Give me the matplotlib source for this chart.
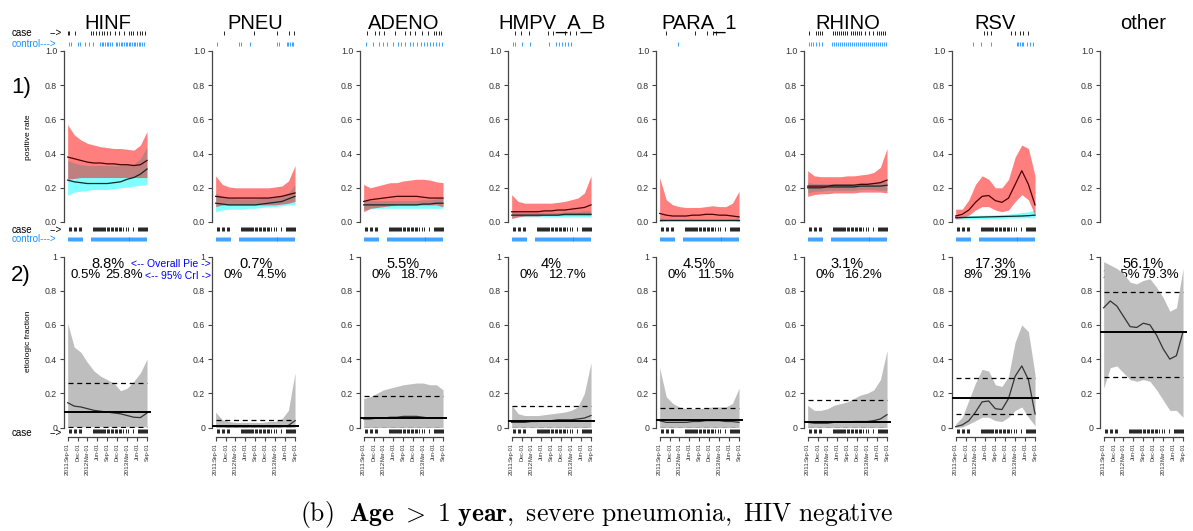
import matplotlib

matplotlib.use("Agg")

import matplotlib.pyplot as plt

plt.rcParams["font.family"] = ["Liberation Sans", "DejaVu Sans"]
plt.rcParams["mathtext.fontset"] = "cm"

W, H = 1193, 531

# months since 2011-09-01, smoothed curves are read every two months
MONTHS = [0, 2, 4, 6, 8, 10, 12, 14, 16, 18, 20, 22, 24]
TICK_MONTHS = [0, 3, 6, 9, 12, 15, 18, 21, 24]
TICK_LABELS = ["Sep-01", "Dec-01", "Mar-01", "Jun-01", "Sep-01",
               "Dec-01", "Mar-01", "Jun-01", "Sep-01"]
YEAR_LABELS = {0: "2011:", 6: "2012:", 18: "2013:"}

PATHOGENS = ["HINF", "PNEU", "ADENO", "HMPV_A_B", "PARA_1", "RHINO", "RSV", "other"]

# ---- row 1: positive rate (case = red band, control = cyan band) ----
hinf_case_mid = [0.38, 0.37, 0.36, 0.35, 0.345, 0.345, 0.34, 0.34, 0.335, 0.335, 0.33, 0.335, 0.36]
hinf_case_hi = [0.57, 0.51, 0.48, 0.46, 0.45, 0.44, 0.435, 0.43, 0.43, 0.425, 0.42, 0.45, 0.53]
hinf_case_lo = [0.25, 0.255, 0.26, 0.26, 0.26, 0.26, 0.26, 0.26, 0.26, 0.26, 0.26, 0.26, 0.26]
hinf_ctrl_mid = [0.245, 0.235, 0.23, 0.225, 0.225, 0.225, 0.225, 0.23, 0.235, 0.25, 0.26, 0.28, 0.31]
hinf_ctrl_hi = [0.36, 0.345, 0.335, 0.33, 0.33, 0.33, 0.33, 0.33, 0.33, 0.335, 0.34, 0.37, 0.44]
hinf_ctrl_lo = [0.155, 0.175, 0.18, 0.185, 0.19, 0.19, 0.19, 0.195, 0.2, 0.205, 0.21, 0.215, 0.22]

pneu_case_mid = [0.15, 0.145, 0.14, 0.14, 0.14, 0.14, 0.14, 0.14, 0.14, 0.145, 0.15, 0.16, 0.17]
pneu_case_hi = [0.27, 0.22, 0.205, 0.2, 0.2, 0.2, 0.2, 0.2, 0.2, 0.205, 0.21, 0.24, 0.33]
pneu_case_lo = [0.09, 0.1, 0.1, 0.1, 0.1, 0.1, 0.1, 0.1, 0.1, 0.1, 0.105, 0.11, 0.12]
pneu_ctrl_mid = [0.11, 0.105, 0.1, 0.1, 0.1, 0.1, 0.1, 0.105, 0.11, 0.115, 0.12, 0.135, 0.15]
pneu_ctrl_hi = [0.17, 0.15, 0.14, 0.135, 0.135, 0.135, 0.135, 0.14, 0.14, 0.145, 0.155, 0.17, 0.22]
pneu_ctrl_lo = [0.06, 0.07, 0.075, 0.075, 0.075, 0.08, 0.08, 0.085, 0.09, 0.09, 0.095, 0.1, 0.1]

adeno_case_mid = [0.12, 0.13, 0.135, 0.14, 0.145, 0.15, 0.15, 0.15, 0.15, 0.145, 0.14, 0.14, 0.14]
adeno_case_hi = [0.22, 0.2, 0.21, 0.22, 0.23, 0.23, 0.24, 0.245, 0.25, 0.25, 0.245, 0.235, 0.23]
adeno_case_lo = [0.06, 0.08, 0.085, 0.09, 0.095, 0.1, 0.1, 0.1, 0.1, 0.1, 0.1, 0.1, 0.09]
adeno_ctrl_mid = [0.1, 0.1, 0.1, 0.1, 0.1, 0.1, 0.1, 0.1, 0.1, 0.105, 0.105, 0.11, 0.11]
adeno_ctrl_hi = [0.13, 0.125, 0.125, 0.125, 0.125, 0.125, 0.125, 0.125, 0.125, 0.13, 0.13, 0.135, 0.14]
adeno_ctrl_lo = [0.07, 0.075, 0.08, 0.08, 0.08, 0.08, 0.08, 0.08, 0.08, 0.08, 0.08, 0.08, 0.08]

hmpv_case_mid = [0.06, 0.06, 0.06, 0.06, 0.06, 0.065, 0.065, 0.07, 0.07, 0.075, 0.08, 0.085, 0.1]
hmpv_case_hi = [0.16, 0.12, 0.11, 0.11, 0.11, 0.11, 0.11, 0.115, 0.12, 0.13, 0.14, 0.17, 0.27]
hmpv_case_lo = [0.02, 0.03, 0.035, 0.035, 0.035, 0.04, 0.04, 0.04, 0.04, 0.04, 0.04, 0.04, 0.04]
hmpv_ctrl_mid = [0.04, 0.04, 0.04, 0.04, 0.04, 0.04, 0.04, 0.04, 0.045, 0.045, 0.045, 0.045, 0.045]
hmpv_ctrl_hi = [0.06, 0.055, 0.055, 0.055, 0.055, 0.055, 0.055, 0.055, 0.06, 0.06, 0.06, 0.065, 0.065]
hmpv_ctrl_lo = [0.025, 0.03, 0.03, 0.03, 0.03, 0.03, 0.03, 0.03, 0.03, 0.03, 0.03, 0.03, 0.03]

para_case_mid = [0.05, 0.04, 0.035, 0.035, 0.035, 0.04, 0.04, 0.045, 0.045, 0.04, 0.04, 0.035, 0.03]
para_case_hi = [0.26, 0.13, 0.1, 0.09, 0.085, 0.085, 0.085, 0.09, 0.095, 0.09, 0.09, 0.11, 0.18]
para_case_lo = [0.005, 0.01, 0.01, 0.01, 0.01, 0.015, 0.015, 0.015, 0.015, 0.015, 0.01, 0.01, 0.005]
para_ctrl_mid = [0.01, 0.01, 0.01, 0.01, 0.01, 0.01, 0.01, 0.01, 0.01, 0.01, 0.01, 0.01, 0.01]
para_ctrl_hi = [0.025, 0.02, 0.02, 0.02, 0.02, 0.02, 0.02, 0.02, 0.02, 0.02, 0.02, 0.02, 0.025]
para_ctrl_lo = [0.003, 0.003, 0.003, 0.003, 0.003, 0.003, 0.003, 0.003, 0.003, 0.003, 0.003, 0.003, 0.003]

rhino_case_mid = [0.21, 0.21, 0.21, 0.21, 0.215, 0.215, 0.215, 0.215, 0.22, 0.22, 0.225, 0.23, 0.245]
rhino_case_hi = [0.3, 0.27, 0.265, 0.265, 0.265, 0.265, 0.27, 0.27, 0.275, 0.28, 0.29, 0.32, 0.43]
rhino_case_lo = [0.15, 0.16, 0.165, 0.165, 0.17, 0.17, 0.17, 0.17, 0.175, 0.175, 0.175, 0.175, 0.17]
rhino_ctrl_mid = [0.2, 0.2, 0.2, 0.205, 0.205, 0.205, 0.205, 0.205, 0.21, 0.21, 0.21, 0.21, 0.215]
rhino_ctrl_hi = [0.23, 0.225, 0.225, 0.225, 0.225, 0.225, 0.225, 0.225, 0.23, 0.23, 0.23, 0.235, 0.24]
rhino_ctrl_lo = [0.17, 0.18, 0.18, 0.185, 0.185, 0.185, 0.185, 0.185, 0.19, 0.19, 0.19, 0.185, 0.185]

rsv_case_mid = [0.035, 0.045, 0.07, 0.115, 0.15, 0.155, 0.125, 0.115, 0.14, 0.22, 0.3, 0.22, 0.1]
rsv_case_hi = [0.075, 0.075, 0.13, 0.22, 0.27, 0.25, 0.2, 0.2, 0.25, 0.38, 0.45, 0.43, 0.27]
rsv_case_lo = [0.02, 0.025, 0.04, 0.07, 0.09, 0.09, 0.07, 0.06, 0.07, 0.12, 0.16, 0.13, 0.04]
rsv_ctrl_mid = [0.025, 0.026, 0.027, 0.028, 0.029, 0.03, 0.031, 0.032, 0.033, 0.034, 0.035, 0.037, 0.04]
rsv_ctrl_hi = [0.035, 0.036, 0.037, 0.038, 0.04, 0.04, 0.042, 0.044, 0.046, 0.05, 0.055, 0.06, 0.07]
rsv_ctrl_lo = [0.015, 0.016, 0.017, 0.018, 0.019, 0.02, 0.02, 0.021, 0.022, 0.023, 0.024, 0.025, 0.025]

# ---- row 2: etiologic fraction ----
hinf_ef_mid = [0.145, 0.125, 0.12, 0.11, 0.1, 0.095, 0.09, 0.085, 0.08, 0.07, 0.06, 0.058, 0.085]
hinf_ef_hi = [0.61, 0.47, 0.44, 0.38, 0.33, 0.3, 0.28, 0.26, 0.215, 0.23, 0.27, 0.32, 0.4]
hinf_ef_lo = [0.004, 0.004, 0.004, 0.004, 0.004, 0.004, 0.004, 0.004, 0.004, 0.004, 0.004, 0.004, 0.004]

pneu_ef_mid = [0.008, 0.006, 0.005, 0.005, 0.005, 0.005, 0.005, 0.005, 0.005, 0.005, 0.006, 0.012, 0.04]
pneu_ef_hi = [0.09, 0.045, 0.035, 0.03, 0.03, 0.03, 0.03, 0.03, 0.035, 0.035, 0.05, 0.1, 0.32]
pneu_ef_lo = [0, 0, 0, 0, 0, 0, 0, 0, 0, 0, 0, 0, 0]

adeno_ef_mid = [0.05, 0.05, 0.055, 0.055, 0.06, 0.06, 0.065, 0.065, 0.065, 0.06, 0.055, 0.055, 0.055]
adeno_ef_hi = [0.17, 0.18, 0.2, 0.22, 0.23, 0.24, 0.25, 0.255, 0.26, 0.26, 0.25, 0.25, 0.22]
adeno_ef_lo = [0, 0, 0, 0, 0, 0, 0, 0, 0, 0, 0, 0, 0]

hmpv_ef_mid = [0.03, 0.03, 0.03, 0.035, 0.035, 0.04, 0.04, 0.045, 0.045, 0.045, 0.05, 0.055, 0.07]
hmpv_ef_hi = [0.13, 0.08, 0.07, 0.07, 0.07, 0.075, 0.08, 0.085, 0.09, 0.1, 0.12, 0.2, 0.38]
hmpv_ef_lo = [0, 0, 0, 0, 0, 0, 0, 0, 0, 0, 0, 0, 0]

para_ef_mid = [0.04, 0.03, 0.03, 0.03, 0.03, 0.035, 0.035, 0.04, 0.04, 0.04, 0.035, 0.035, 0.03]
para_ef_hi = [0.35, 0.18, 0.14, 0.12, 0.11, 0.11, 0.11, 0.115, 0.12, 0.12, 0.12, 0.14, 0.23]
para_ef_lo = [0, 0, 0, 0, 0, 0, 0, 0, 0, 0, 0, 0, 0]

rhino_ef_mid = [0.03, 0.025, 0.025, 0.025, 0.03, 0.03, 0.03, 0.035, 0.035, 0.035, 0.04, 0.05, 0.075]
rhino_ef_hi = [0.13, 0.1, 0.1, 0.11, 0.13, 0.14, 0.15, 0.17, 0.19, 0.2, 0.22, 0.28, 0.45]
rhino_ef_lo = [0, 0, 0, 0, 0, 0, 0, 0, 0, 0, 0, 0, 0]

rsv_ef_mid = [0.005, 0.015, 0.04, 0.09, 0.15, 0.155, 0.11, 0.105, 0.17, 0.3, 0.36, 0.28, 0.08]
rsv_ef_hi = [0.02, 0.06, 0.16, 0.26, 0.34, 0.33, 0.25, 0.24, 0.3, 0.5, 0.6, 0.56, 0.31]
rsv_ef_lo = [0, 0.003, 0.02, 0.04, 0.06, 0.06, 0.04, 0.035, 0.06, 0.1, 0.12, 0.06, 0.01]

other_ef_mid = [0.7, 0.74, 0.71, 0.65, 0.59, 0.585, 0.61, 0.6, 0.54, 0.46, 0.4, 0.42, 0.56]
other_ef_hi = [0.97, 0.95, 0.93, 0.9, 0.85, 0.84, 0.86, 0.87, 0.82, 0.76, 0.68, 0.7, 0.93]
other_ef_lo = [0.23, 0.35, 0.36, 0.32, 0.28, 0.27, 0.28, 0.27, 0.22, 0.16, 0.1, 0.1, 0.06]

# overall pie estimate and 95% CrI (percent)
PIE = [8.8, 0.7, 5.5, 4, 4.5, 3.1, 17.3, 56.1]
CRI_LO = [0.5, 0, 0, 0, 0, 0, 8, 29.5]
CRI_HI = [25.8, 4.5, 18.7, 12.7, 11.5, 16.2, 29.1, 79.3]

# ---- rug marks (months) ----
case_all = [0.3, 0.6, 0.9, 1.8, 2.1, 2.4, 3.3, 3.7, 4.1,
            7.6, 7.9, 8.2, 8.5, 8.8, 9.1, 9.4, 9.7, 10.0, 10.3, 10.6, 11.0, 11.4, 11.8,
            12.2, 12.6, 13.0, 13.4, 13.8, 14.2, 14.6, 15.0, 15.4, 15.8, 16.2, 16.6,
            17.7, 18.3, 19.7, 21.2, 21.5, 21.8, 22.1, 22.4, 22.7, 23.0, 23.3, 23.6, 23.9]
ctrl_all = [0.0, 0.3, 0.6, 0.9, 1.2, 1.5, 1.8, 2.1, 2.4, 2.7, 3.0, 3.3, 3.6, 3.9, 4.2,
            7.0, 7.3, 7.6, 7.9, 8.2, 8.5, 8.8, 9.1, 9.4, 9.7, 10.0, 10.3, 10.6, 10.9,
            11.2, 11.5, 11.8, 12.1, 12.4, 12.7, 13.0, 13.3, 13.6, 13.9, 14.2, 14.5,
            14.8, 15.1, 15.4, 15.7, 16.0, 16.3, 16.6, 16.9, 17.2, 17.5, 17.8, 18.1,
            18.4, 18.7, 19.0, 19.3, 19.6, 19.9, 20.2, 20.5, 20.8, 21.1, 21.4, 21.7,
            22.0, 22.3, 22.6, 22.9, 23.2, 23.5, 23.8]

hinf_top_case = [0.0, 0.5, 2.3, 7.0, 7.8, 8.6, 9.4, 10.3, 11.1, 11.8, 12.8, 14.4,
                 15.4, 16.9, 18.4, 19.1, 19.9, 20.9, 21.8, 22.5, 23.5]
hinf_top_ctrl = [0.3, 1.1, 3.1, 3.8, 5.3, 6.6, 7.6, 9.8, 10.3, 10.8, 11.3, 11.8, 12.3,
                 12.8, 13.3, 14.5, 15.0, 15.5, 16.0, 16.5, 17.0, 17.5, 18.0, 18.5,
                 19.0, 19.5, 20.0, 20.5, 21.0, 21.5, 22.0, 22.5, 23.0]
pneu_top_case = [2.4, 11.5, 18.7, 22.1, 23.6]
pneu_top_ctrl = [0.5, 7.1, 7.6, 10.3, 18.7, 19.3, 21.5, 22.0, 22.5, 23.0, 23.5]
adeno_top_case = [0.9, 3.3, 4.5, 6.3, 9.6, 12.6, 14.1, 15.6, 17.7, 19.5, 21.3, 22.0, 22.7, 23.4]
adeno_top_ctrl = [0.6, 2.7, 4.5, 6.0, 7.2, 9.0, 10.5, 11.4, 12.6, 14.1, 15.0, 16.2, 17.4,
                  18.3, 19.2, 20.1, 21.0, 21.9, 22.8, 23.7]
hmpv_top_case = [0.9, 2.7, 5.1, 11.1, 12.6, 16.2, 17.7, 19.5]
hmpv_top_ctrl = [0.3, 0.9, 3.0, 5.4, 11.4, 13.5, 14.4, 15.3, 16.2, 17.1, 18.0]
para_top_case = [1.8, 10.8, 14.4, 16.2, 17.1]
para_top_ctrl = [5.4]
rhino_top_case = [0.3, 2.4, 3.0, 3.6, 4.2, 7.8, 8.4, 9.0, 9.6, 10.2, 10.8, 11.4, 12.0,
                  13.2, 13.8, 14.4, 15.0, 15.6, 16.2, 17.4, 18.6, 19.8, 21.0, 21.6,
                  22.2, 22.8, 23.4]
rhino_top_ctrl = [0.3, 0.9, 1.5, 2.4, 3.3, 4.2, 7.5, 8.1, 8.7, 9.3, 9.9, 10.5, 11.1,
                  11.7, 12.3, 12.9, 13.5, 14.1, 14.7, 15.3, 15.9, 16.5, 17.1, 17.7,
                  18.3, 18.9, 19.5, 20.1, 20.7, 21.3, 21.9, 22.5, 23.1, 23.7]
rsv_top_case = [8.5, 9.4, 10.6, 16.7, 17.8, 19.5, 20.5, 21.9]
rsv_top_ctrl = [5.1, 7.8, 10.6, 18.5, 19.0, 19.5, 20.0, 20.5, 21.5, 22.4, 23.4]

ROW1 = [
    (hinf_case_mid, hinf_case_lo, hinf_case_hi, hinf_ctrl_mid, hinf_ctrl_lo, hinf_ctrl_hi),
    (pneu_case_mid, pneu_case_lo, pneu_case_hi, pneu_ctrl_mid, pneu_ctrl_lo, pneu_ctrl_hi),
    (adeno_case_mid, adeno_case_lo, adeno_case_hi, adeno_ctrl_mid, adeno_ctrl_lo, adeno_ctrl_hi),
    (hmpv_case_mid, hmpv_case_lo, hmpv_case_hi, hmpv_ctrl_mid, hmpv_ctrl_lo, hmpv_ctrl_hi),
    (para_case_mid, para_case_lo, para_case_hi, para_ctrl_mid, para_ctrl_lo, para_ctrl_hi),
    (rhino_case_mid, rhino_case_lo, rhino_case_hi, rhino_ctrl_mid, rhino_ctrl_lo, rhino_ctrl_hi),
    (rsv_case_mid, rsv_case_lo, rsv_case_hi, rsv_ctrl_mid, rsv_ctrl_lo, rsv_ctrl_hi),
    None,
]
ROW2 = [
    (hinf_ef_mid, hinf_ef_lo, hinf_ef_hi), (pneu_ef_mid, pneu_ef_lo, pneu_ef_hi),
    (adeno_ef_mid, adeno_ef_lo, adeno_ef_hi), (hmpv_ef_mid, hmpv_ef_lo, hmpv_ef_hi),
    (para_ef_mid, para_ef_lo, para_ef_hi), (rhino_ef_mid, rhino_ef_lo, rhino_ef_hi),
    (rsv_ef_mid, rsv_ef_lo, rsv_ef_hi), (other_ef_mid, other_ef_lo, other_ef_hi),
]
TOP_RUGS = [
    (hinf_top_case, hinf_top_ctrl), (pneu_top_case, pneu_top_ctrl),
    (adeno_top_case, adeno_top_ctrl), (hmpv_top_case, hmpv_top_ctrl),
    (para_top_case, para_top_ctrl), (rhino_top_case, rhino_top_ctrl),
    (rsv_top_case, rsv_top_ctrl), None,
]

RED = (1.0, 0.0, 0.0, 0.5)
CYAN = (0.0, 1.0, 1.0, 0.5)
BLUE_RUG = "#1E90FF"
GREY_BAND = "#bebebe"
AXIS = "#444444"
TICKTXT = "#333333"

# layout in pixels
COL0, COL_STEP, AX_W = 64, 148, 87
ROW1_TOP, ROW1_BOT = 51, 222
ROW2_TOP, ROW2_BOT = 256.5, 427.5
XLIM = (-1.1, 25.2)


def px_axes(fig, left, top, bottom):
    return fig.add_axes([left / W, 1 - bottom / H, AX_W / W, (bottom - top) / H])


def style_left(ax, labels):
    for s in ("top", "right", "bottom"):
        ax.spines[s].set_visible(False)
    ax.spines["left"].set_color(AXIS)
    ax.spines["left"].set_linewidth(0.9)
    ax.spines["left"].set_bounds(0, 1)
    ax.set_ylim(0, 1)
    ax.set_xlim(*XLIM)
    ax.set_yticks([0, 0.2, 0.4, 0.6, 0.8, 1.0])
    ax.set_yticklabels(labels)
    ax.tick_params(axis="y", length=3, width=0.8, pad=2, labelsize=6.3,
                   colors=AXIS, labelcolor=TICKTXT)
    ax.set_xticks([])
    ax.patch.set_visible(False)


def rug(ax, xs, y0, y1, color):
    ax.vlines(xs, y0, y1, transform=ax.get_xaxis_transform(), colors=color,
              linewidth=0.6, clip_on=False)


def ay(pix, top, bot):
    return (bot - pix) / (bot - top)


fig = plt.figure(figsize=(W / 100, H / 100), dpi=100)

for i, name in enumerate(PATHOGENS):
    left = COL0 + COL_STEP * i

    # ---------- row 1 ----------
    ax1 = px_axes(fig, left, ROW1_TOP, ROW1_BOT)
    style_left(ax1, ["0.0", "0.2", "0.4", "0.6", "0.8", "1.0"])
    ax1.text(0.5, ay(24, ROW1_TOP, ROW1_BOT), name, transform=ax1.transAxes,
             ha="center", va="center", fontsize=14.5, zorder=1)
    if ROW1[i] is not None:
        cm, cl, ch, km, kl, kh = ROW1[i]
        ax1.fill_between(MONTHS, kl, kh, color=CYAN, linewidth=0)
        ax1.fill_between(MONTHS, cl, ch, color=RED, linewidth=0)
        ax1.plot(MONTHS, km, color="#0a2a2a", lw=0.9)
        ax1.plot(MONTHS, cm, color="#4a0000", lw=0.9)
        tcase, tctrl = TOP_RUGS[i]
        rug(ax1, tcase, ay(35, ROW1_TOP, ROW1_BOT), ay(31, ROW1_TOP, ROW1_BOT), "black")
        rug(ax1, tctrl, ay(46, ROW1_TOP, ROW1_BOT), ay(42, ROW1_TOP, ROW1_BOT), BLUE_RUG)
        rug(ax1, case_all, ay(231, ROW1_TOP, ROW1_BOT), ay(227, ROW1_TOP, ROW1_BOT), "black")
        rug(ax1, ctrl_all, ay(241, ROW1_TOP, ROW1_BOT), ay(237, ROW1_TOP, ROW1_BOT), BLUE_RUG)

    # ---------- row 2 ----------
    ax2 = px_axes(fig, left, ROW2_TOP, ROW2_BOT)
    style_left(ax2, ["0", "0.2", "0.4", "0.6", "0.8", "1"])
    em, el, eh = ROW2[i]
    ax2.fill_between(MONTHS, el, eh, color=GREY_BAND, linewidth=0, zorder=3)
    ax2.plot(MONTHS, em, color="#333333", lw=0.9, zorder=4)
    ax2.axhline(PIE[i] / 100, color="black", lw=1.4, zorder=5)
    ax2.hlines([CRI_LO[i] / 100, CRI_HI[i] / 100], 0, 24, colors="black",
               linestyles=(0, (4, 3)), lw=0.9, zorder=5)
    ax2.text(0.5, 0.958, f"{PIE[i]:g}%", transform=ax2.transAxes, ha="center",
             va="center", fontsize=10.5, zorder=2)
    ax2.text(0.245, 0.89, f"{CRI_LO[i]:g}%", transform=ax2.transAxes, ha="center",
             va="center", fontsize=9.5, zorder=2)
    ax2.text(0.69, 0.89, f"{CRI_HI[i]:g}%", transform=ax2.transAxes, ha="center",
             va="center", fontsize=9.5, zorder=2)
    rug(ax2, case_all, ay(433, ROW2_TOP, ROW2_BOT), ay(429, ROW2_TOP, ROW2_BOT), "black")

    # date axis below
    ax2.spines["bottom"].set_visible(True)
    ax2.spines["bottom"].set_position(("outward", 6.5))
    ax2.spines["bottom"].set_bounds(0, 24)
    ax2.spines["bottom"].set_color(AXIS)
    ax2.spines["bottom"].set_linewidth(0.9)
    ax2.set_xticks(TICK_MONTHS)
    ax2.set_xticklabels(TICK_LABELS, rotation=90)
    ax2.tick_params(axis="x", length=3, width=0.8, pad=1.5, labelsize=4,
                    colors=AXIS, labelcolor=TICKTXT)
    for m, yr in YEAR_LABELS.items():
        ax2.text(m, ay(459, ROW2_TOP, ROW2_BOT), yr, transform=ax2.get_xaxis_transform(),
                 rotation=90, ha="center", va="top", fontsize=4.6, color=TICKTXT)

# side labels
fig.text(12 / W, 1 - 33 / H, "case", fontsize=7, va="center")
fig.text(62 / W, 1 - 33 / H, "-->", fontsize=7, va="center", ha="right")
fig.text(12 / W, 1 - 44 / H, "control--->", fontsize=7, va="center", color=BLUE_RUG)
fig.text(12 / W, 1 - 230 / H, "case", fontsize=7, va="center")
fig.text(62 / W, 1 - 230 / H, "-->", fontsize=7, va="center", ha="right")
fig.text(12 / W, 1 - 239 / H, "control--->", fontsize=7, va="center", color=BLUE_RUG)
fig.text(12 / W, 1 - 433 / H, "case", fontsize=7, va="center")
fig.text(62 / W, 1 - 433 / H, "-->", fontsize=7, va="center", ha="right")

fig.text(21 / W, 1 - 88 / H, "1)", fontsize=16, ha="center", va="center")
fig.text(21 / W, 1 - 276 / H, "2)", fontsize=16, ha="center", va="center")
fig.text(29 / W, 1 - 137 / H, "positive rate", fontsize=6, rotation=90,
         ha="center", va="center")
fig.text(29 / W, 1 - 341 / H, "etiologic fraction", fontsize=6, rotation=90,
         ha="center", va="center")

fig.text(211 / W, 1 - 264 / H, "<-- Overall Pie ->", fontsize=7.5, color="blue",
         ha="right", va="center")
fig.text(211 / W, 1 - 276 / H, "<-- 95% CrI ->", fontsize=7.5, color="blue",
         ha="right", va="center")

fig.text(0.5, 1 - 515 / H,
         r"$\mathrm{(b)}\ \ \mathbf{Age}\ >\ 1\ \mathbf{year}\mathrm{,\ severe\ pneumonia,\ HIV\ negative}$",
         fontsize=18.5, ha="center", va="center")

fig.savefig("out.png", dpi=100, facecolor="white")
